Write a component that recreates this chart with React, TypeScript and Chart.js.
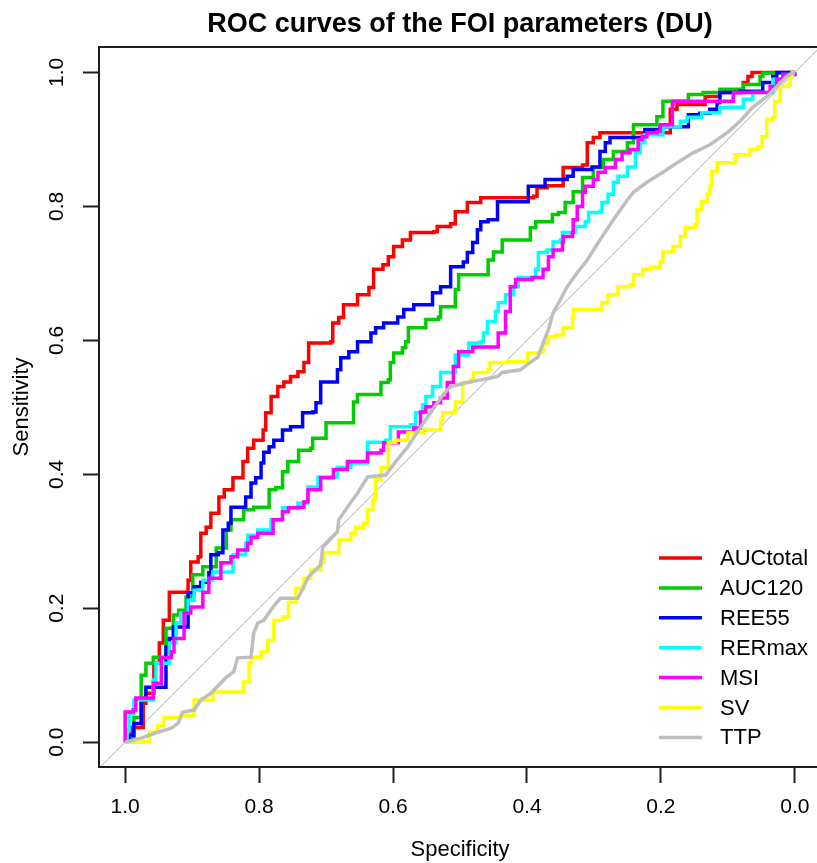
import { useEffect, useRef } from 'react';
import { Chart, registerables } from 'chart.js';

Chart.register(...registerables);

const FONT = '"Liberation Sans", Arial, Helvetica, sans-serif';
const chartTitle = 'ROC curves of the FOI parameters (DU)';
const xTitle = 'Specificity';
const yTitle = 'Sensitivity';

const seriesNames = ['AUCtotal', 'AUC120', 'REE55', 'RERmax', 'MSI', 'SV', 'TTP'];
const seriesColors = ['#FF0000', '#00CD00', '#0000FF', '#00FFFF', '#FF00FF', '#FFFF00', '#BEBEBE'];

const tickValues = [0, 0.2, 0.4, 0.6, 0.8, 1.0];
const tickLabels = ['0.0', '0.2', '0.4', '0.6', '0.8', '1.0'];
const xRange = [-0.039, 1.039];
const yRange = [-0.037, 1.038];
const diagonalSpec = [1.2, -0.2];
const diagonalSens = [-0.2, 1.2];

const aucTotalSpec = [1.000,0.996,0.991,0.973,0.969,0.957,0.949,0.943,0.934,0.906,0.906,0.902,0.891,0.887,0.879,0.872,0.860,0.852,0.839,0.824,0.817,0.808,0.794,0.790,0.782,0.772,0.763,0.753,0.742,0.733,0.726,0.693,0.690,0.681,0.674,0.653,0.636,0.629,0.615,0.607,0.599,0.586,0.574,0.539,0.534,0.514,0.507,0.489,0.469,0.390,0.385,0.370,0.346,0.346,0.317,0.310,0.301,0.291,0.241,0.206,0.186,0.176,0.161,0.134,0.112,0.077,0.070,0.064,0.000];
const aucTotalSens = [0.000,0.006,0.022,0.058,0.073,0.118,0.148,0.182,0.224,0.224,0.242,0.269,0.277,0.312,0.321,0.342,0.366,0.377,0.395,0.419,0.439,0.451,0.466,0.492,0.516,0.531,0.538,0.546,0.553,0.567,0.596,0.598,0.626,0.634,0.653,0.668,0.679,0.706,0.713,0.725,0.740,0.750,0.761,0.762,0.770,0.774,0.792,0.806,0.813,0.815,0.828,0.831,0.845,0.858,0.862,0.895,0.903,0.910,0.910,0.910,0.945,0.952,0.952,0.964,0.970,0.985,0.994,1.000,1.000];

const auc120Spec = [1.000,0.994,0.987,0.976,0.976,0.969,0.958,0.939,0.928,0.920,0.909,0.899,0.884,0.864,0.849,0.842,0.823,0.808,0.785,0.775,0.765,0.757,0.741,0.723,0.720,0.700,0.678,0.659,0.653,0.623,0.618,0.607,0.604,0.599,0.586,0.581,0.577,0.556,0.551,0.532,0.529,0.507,0.502,0.466,0.458,0.450,0.437,0.398,0.395,0.387,0.362,0.353,0.343,0.331,0.317,0.301,0.286,0.271,0.250,0.241,0.209,0.206,0.197,0.161,0.159,0.137,0.112,0.077,0.052,0.048,0.000];
const auc120Sens = [0.000,0.007,0.037,0.063,0.100,0.118,0.127,0.170,0.190,0.197,0.217,0.250,0.262,0.290,0.317,0.332,0.347,0.351,0.377,0.380,0.404,0.419,0.436,0.439,0.454,0.477,0.477,0.508,0.519,0.519,0.537,0.541,0.567,0.581,0.589,0.598,0.619,0.619,0.631,0.635,0.650,0.676,0.698,0.698,0.720,0.732,0.750,0.750,0.768,0.777,0.788,0.791,0.806,0.822,0.843,0.858,0.870,0.882,0.895,0.922,0.922,0.934,0.957,0.957,0.967,0.970,0.975,0.982,0.994,0.999,1.000];

const ree55Spec = [1.000,0.994,0.987,0.976,0.969,0.939,0.934,0.928,0.906,0.897,0.887,0.875,0.872,0.861,0.854,0.846,0.842,0.823,0.820,0.812,0.805,0.797,0.793,0.785,0.778,0.765,0.753,0.735,0.720,0.715,0.708,0.686,0.683,0.678,0.666,0.653,0.636,0.633,0.626,0.614,0.596,0.593,0.584,0.569,0.547,0.541,0.529,0.514,0.495,0.489,0.481,0.474,0.469,0.458,0.444,0.417,0.398,0.373,0.340,0.331,0.303,0.291,0.283,0.276,0.231,0.224,0.201,0.159,0.142,0.127,0.116,0.112,0.082,0.048,0.033,0.027,0.000];
const ree55Sens = [0.000,0.010,0.028,0.063,0.082,0.142,0.155,0.172,0.223,0.232,0.239,0.253,0.280,0.283,0.317,0.327,0.351,0.351,0.366,0.387,0.395,0.417,0.433,0.441,0.451,0.466,0.471,0.492,0.493,0.507,0.538,0.538,0.556,0.574,0.583,0.598,0.598,0.611,0.619,0.626,0.626,0.635,0.646,0.653,0.653,0.671,0.680,0.710,0.717,0.731,0.746,0.765,0.777,0.780,0.807,0.807,0.830,0.840,0.845,0.855,0.859,0.882,0.895,0.903,0.903,0.915,0.919,0.937,0.939,0.945,0.955,0.970,0.972,0.985,0.994,1.000,1.000];

const rerMaxSpec = [1.000,0.997,0.994,0.987,0.958,0.954,0.934,0.924,0.917,0.906,0.897,0.884,0.869,0.839,0.820,0.817,0.802,0.782,0.765,0.742,0.727,0.712,0.683,0.663,0.638,0.611,0.604,0.574,0.566,0.556,0.551,0.541,0.529,0.507,0.487,0.469,0.465,0.459,0.447,0.443,0.432,0.420,0.413,0.390,0.387,0.383,0.370,0.361,0.350,0.347,0.328,0.313,0.308,0.291,0.288,0.279,0.271,0.264,0.250,0.238,0.231,0.224,0.197,0.171,0.161,0.139,0.112,0.082,0.077,0.063,0.033,0.018,0.000];
const rerMaxSens = [0.000,0.018,0.043,0.063,0.093,0.118,0.148,0.178,0.193,0.212,0.227,0.242,0.254,0.280,0.297,0.309,0.317,0.332,0.350,0.357,0.381,0.396,0.410,0.417,0.448,0.451,0.471,0.474,0.492,0.504,0.516,0.531,0.552,0.578,0.596,0.598,0.611,0.628,0.643,0.656,0.668,0.680,0.694,0.694,0.706,0.731,0.735,0.747,0.750,0.761,0.770,0.777,0.791,0.792,0.806,0.818,0.836,0.845,0.859,0.880,0.895,0.907,0.919,0.927,0.933,0.940,0.948,0.948,0.960,0.970,0.990,0.997,1.000];

const msiSpec = [1.000,1.000,0.988,0.984,0.961,0.958,0.946,0.931,0.927,0.912,0.902,0.884,0.875,0.857,0.842,0.832,0.817,0.812,0.802,0.779,0.765,0.756,0.741,0.733,0.727,0.708,0.689,0.668,0.638,0.618,0.614,0.592,0.569,0.559,0.551,0.539,0.529,0.519,0.510,0.502,0.481,0.459,0.443,0.432,0.425,0.417,0.392,0.376,0.368,0.361,0.347,0.346,0.332,0.331,0.325,0.317,0.313,0.301,0.294,0.283,0.268,0.258,0.246,0.234,0.228,0.221,0.206,0.201,0.183,0.182,0.097,0.092,0.042,0.037,0.027,0.018,0.000];
const msiSens = [0.000,0.045,0.048,0.066,0.066,0.088,0.126,0.135,0.155,0.193,0.202,0.224,0.245,0.268,0.277,0.287,0.297,0.306,0.312,0.332,0.344,0.350,0.351,0.359,0.377,0.395,0.407,0.419,0.432,0.436,0.447,0.463,0.469,0.493,0.501,0.507,0.514,0.537,0.561,0.583,0.590,0.590,0.611,0.643,0.680,0.691,0.694,0.706,0.725,0.735,0.746,0.755,0.761,0.780,0.800,0.821,0.830,0.840,0.851,0.858,0.870,0.880,0.885,0.900,0.904,0.910,0.912,0.922,0.952,0.957,0.957,0.970,0.970,0.979,0.990,0.997,1.000];

const svSpec = [1.000,0.973,0.964,0.951,0.942,0.917,0.897,0.869,0.830,0.823,0.815,0.812,0.797,0.787,0.778,0.765,0.756,0.745,0.733,0.723,0.708,0.703,0.683,0.681,0.663,0.656,0.644,0.638,0.630,0.626,0.618,0.607,0.596,0.578,0.554,0.539,0.529,0.526,0.510,0.507,0.496,0.496,0.484,0.480,0.458,0.455,0.429,0.399,0.380,0.376,0.368,0.358,0.346,0.332,0.331,0.291,0.288,0.279,0.264,0.246,0.241,0.227,0.216,0.201,0.197,0.182,0.171,0.164,0.149,0.146,0.139,0.131,0.127,0.124,0.116,0.089,0.067,0.055,0.049,0.042,0.033,0.030,0.022,0.010,0.007,0.004,0.000];
const svSens = [0.000,0.001,0.015,0.025,0.037,0.040,0.063,0.075,0.075,0.090,0.118,0.127,0.135,0.152,0.182,0.187,0.209,0.230,0.245,0.257,0.268,0.283,0.283,0.302,0.312,0.321,0.327,0.347,0.362,0.392,0.410,0.448,0.451,0.462,0.466,0.466,0.481,0.492,0.493,0.508,0.526,0.537,0.541,0.552,0.556,0.567,0.568,0.581,0.583,0.596,0.605,0.608,0.619,0.634,0.646,0.646,0.656,0.668,0.680,0.683,0.698,0.706,0.709,0.717,0.732,0.740,0.755,0.768,0.773,0.795,0.807,0.818,0.830,0.852,0.865,0.877,0.885,0.889,0.904,0.930,0.933,0.957,0.979,0.982,0.994,1.000,1.000];

const ttpSpec = [1.000,0.976,0.957,0.931,0.921,0.914,0.897,0.887,0.872,0.849,0.838,0.832,0.812,0.808,0.802,0.793,0.779,0.768,0.742,0.726,0.708,0.705,0.683,0.681,0.668,0.653,0.638,0.611,0.596,0.578,0.562,0.544,0.525,0.514,0.489,0.469,0.444,0.437,0.410,0.395,0.384,0.377,0.368,0.361,0.350,0.340,0.325,0.310,0.291,0.271,0.250,0.241,0.221,0.197,0.176,0.152,0.127,0.101,0.082,0.063,0.042,0.022,0.012,0.004,0.000];
const ttpSens = [0.000,0.006,0.013,0.021,0.028,0.045,0.048,0.063,0.073,0.097,0.105,0.126,0.127,0.163,0.178,0.182,0.202,0.215,0.215,0.247,0.265,0.291,0.314,0.332,0.351,0.372,0.396,0.399,0.419,0.441,0.466,0.492,0.519,0.531,0.537,0.541,0.546,0.552,0.556,0.567,0.575,0.593,0.616,0.641,0.661,0.680,0.701,0.720,0.750,0.780,0.810,0.821,0.836,0.851,0.865,0.880,0.892,0.910,0.927,0.948,0.964,0.984,0.994,0.999,1.000];

const specSeries = [aucTotalSpec, auc120Spec, ree55Spec, rerMaxSpec, msiSpec, svSpec, ttpSpec];
const sensSeries = [aucTotalSens, auc120Sens, ree55Sens, rerMaxSens, msiSens, svSens, ttpSens];

const decorPlugin = {
  id: 'rocDecor',
  afterDatasetsDraw(chart: any) {
    const { ctx, chartArea: a } = chart;
    ctx.save();
    ctx.strokeStyle = '#1e1e1e';
    ctx.lineWidth = 2;
    ctx.strokeRect(a.left, a.top, a.right - a.left, a.bottom - a.top);

    ctx.fillStyle = '#000';
    ctx.font = `bold 27px ${FONT}`;
    ctx.textAlign = 'center';
    ctx.textBaseline = 'alphabetic';
    ctx.fillText(chartTitle, (a.left + a.right) / 2, 32);

    ctx.font = `22px ${FONT}`;
    ctx.textAlign = 'left';
    ctx.textBaseline = 'middle';
    seriesNames.forEach((name, i) => {
      const y = a.bottom - 209 + i * 29.9;
      ctx.strokeStyle = seriesColors[i];
      ctx.lineWidth = 3.5;
      ctx.beginPath();
      ctx.moveTo(a.right - 162, y);
      ctx.lineTo(a.right - 119, y);
      ctx.stroke();
      ctx.fillStyle = '#000';
      ctx.fillText(name, a.right - 101, y + 1);
    });
    ctx.restore();
  },
};

export default function App() {
  const canvasRef = useRef<HTMLCanvasElement | null>(null);

  useEffect(() => {
    const canvas = canvasRef.current;
    if (!canvas) return;

    const datasets: any[] = seriesNames.map((name, i) => ({
      label: name,
      data: specSeries[i].map((s, j) => ({ x: s, y: sensSeries[i][j] })),
      borderColor: seriesColors[i],
      backgroundColor: seriesColors[i],
      borderWidth: 3.5,
      pointRadius: 0,
      fill: false,
      tension: 0,
      stepped: i === 6 ? false : 'before',
      order: 10 - i,
    }));
    datasets.push({
      label: 'diagonal',
      data: diagonalSpec.map((s, j) => ({ x: s, y: diagonalSens[j] })),
      borderColor: '#ABABAB',
      borderWidth: 1,
      pointRadius: 0,
      fill: false,
      order: 20,
    });

    const tickFont = { family: FONT, size: 21 };
    const setTicks = (scale: any) => {
      scale.ticks = tickValues.map((v) => ({ value: v }));
    };

    const chart = new Chart(canvas, {
      type: 'line',
      data: { datasets },
      plugins: [decorPlugin],
      options: {
        responsive: true,
        maintainAspectRatio: false,
        animation: false,
        layout: { padding: { top: 47, right: 0, bottom: 0, left: 0 } },
        plugins: {
          legend: { display: false },
          tooltip: { enabled: false },
          title: { display: false },
        },
        elements: { point: { radius: 0 }, line: { borderCapStyle: 'butt', borderJoinStyle: 'miter' } },
        scales: {
          x: {
            type: 'linear',
            reverse: true,
            min: xRange[0],
            max: xRange[1],
            afterBuildTicks: setTicks,
            afterFit: (s: any) => { s.height = 96; },
            border: { display: false },
            grid: { drawOnChartArea: false, drawTicks: true, tickLength: 16, tickColor: '#1e1e1e', tickWidth: 2 },
            ticks: {
              autoSkip: false,
              maxRotation: 0,
              minRotation: 0,
              padding: 12,
              color: '#000',
              font: tickFont,
              callback: (_v: any, i: number) => tickLabels[i],
            },
            title: { display: true, text: xTitle, color: '#000', font: { family: FONT, size: 22 }, padding: { top: 0, bottom: 0 } },
          },
          y: {
            type: 'linear',
            min: yRange[0],
            max: yRange[1],
            afterBuildTicks: setTicks,
            afterFit: (s: any) => { s.width = 99; },
            border: { display: false },
            grid: { drawOnChartArea: false, drawTicks: true, tickLength: 16, tickColor: '#1e1e1e', tickWidth: 2 },
            ticks: {
              autoSkip: false,
              minRotation: 90,
              maxRotation: 90,
              crossAlign: 'center',
              padding: 11,
              color: '#000',
              font: tickFont,
              callback: (_v: any, i: number) => tickLabels[i],
            },
            title: { display: true, text: yTitle, color: '#000', font: { family: FONT, size: 22 }, padding: { top: 9, bottom: 0 } },
          },
        },
      } as any,
    });

    return () => chart.destroy();
  }, []);

  return (
    <div style={{ position: 'fixed', left: 0, top: 0, width: 821, height: 863, background: '#fff' }}>
      <canvas ref={canvasRef} />
    </div>
  );
}
